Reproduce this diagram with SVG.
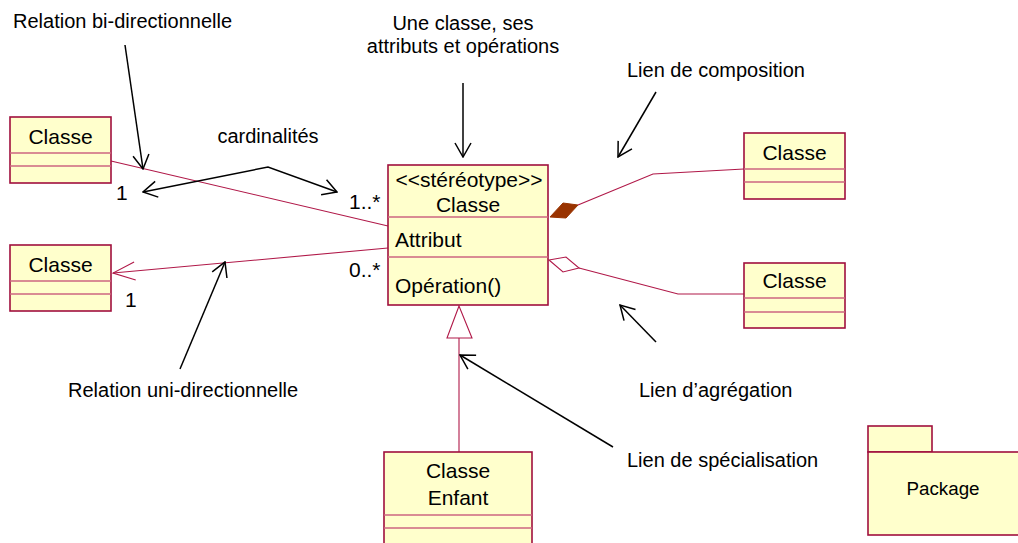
<svg xmlns="http://www.w3.org/2000/svg" width="1018" height="543" viewBox="0 0 1018 543">
<style>
text{font-family:"Liberation Sans",Arial,sans-serif;fill:#000}
.note{font-size:20px}
.card{font-size:21px}
.cls{font-size:21px}
.box{fill:#FFFFCC;stroke:#A0103E;stroke-width:1.6}
.div{stroke:#CC6680;stroke-width:1.4;fill:none}
.assoc{stroke:#B01848;stroke-width:1.1;fill:none}
.ann{stroke:#000;stroke-width:1.5;fill:none}
</style>
<defs>
<marker id="openb" markerUnits="userSpaceOnUse" markerWidth="16" markerHeight="20" viewBox="0 0 16 20" refX="15" refY="10" orient="auto-start-reverse">
<path d="M1,2 L15,10 L1,18" fill="none" stroke="#000" stroke-width="1.5"/>
</marker>
<marker id="openr" markerUnits="userSpaceOnUse" markerWidth="24" markerHeight="24" viewBox="0 0 24 24" refX="23" refY="12" orient="auto">
<path d="M1,3 L23,12 L1,21" fill="none" stroke="#B01848" stroke-width="1.1"/>
</marker>
</defs>

<g id="connectors">
<line class="assoc" x1="111" y1="161" x2="388" y2="226"/>
<line class="assoc" x1="388" y1="248" x2="113" y2="273" marker-end="url(#openr)"/>
<polygon points="550,217 563,203 578,205 566,218" fill="#993300" stroke="#993300" stroke-width="1"/>
<polyline class="assoc" points="578,205 653,174 744,169"/>
<polygon points="549,260 566,257 579,268 563,272" fill="#FFFFFF" stroke="#B01848" stroke-width="1.1"/>
<polyline class="assoc" points="579,268 678,294 744,294"/>
<polygon points="459,306 447,338 472,338" fill="#FFFFFF" stroke="#B01848" stroke-width="1.1"/>
<line class="assoc" x1="459" y1="338" x2="459" y2="452"/>
</g>

<g id="annotations">
<text class="note" x="13" y="28">Relation bi-directionnelle</text>
<line class="ann" x1="125" y1="45" x2="143" y2="169" marker-end="url(#openb)"/>
<text class="note" x="463" y="30" text-anchor="middle">Une classe, ses</text>
<text class="note" x="463" y="53" text-anchor="middle">attributs et opérations</text>
<line class="ann" x1="463" y1="83" x2="463" y2="157" marker-end="url(#openb)"/>
<text class="note" x="627" y="77">Lien de composition</text>
<line class="ann" x1="656" y1="92" x2="618" y2="157" marker-end="url(#openb)"/>
<text class="note" x="268" y="143" text-anchor="middle">cardinalités</text>
<polyline class="ann" points="143,192 268,167 337,192" marker-start="url(#openb)" marker-end="url(#openb)"/>
<text class="card" x="116" y="200">1</text>
<text class="card" x="349" y="209">1..*</text>
<text class="card" x="349" y="277">0..*</text>
<text class="card" x="125" y="307">1</text>
<text class="note" x="68" y="397">Relation uni-directionnelle</text>
<line class="ann" x1="180" y1="369" x2="225" y2="262" marker-end="url(#openb)"/>
<text class="note" x="639" y="397">Lien d’agrégation</text>
<line class="ann" x1="656" y1="342" x2="620" y2="305" marker-end="url(#openb)"/>
<text class="note" x="627" y="467">Lien de spécialisation</text>
<line class="ann" x1="613" y1="447" x2="460" y2="355" marker-end="url(#openb)"/>
</g>

<g id="class-topleft">
<rect class="box" x="10" y="117" width="101" height="66"/>
<line class="div" x1="10" y1="153" x2="111" y2="153"/>
<line class="div" x1="10" y1="166" x2="111" y2="166"/>
<text class="cls" x="60.5" y="144" text-anchor="middle">Classe</text>
</g>

<g id="class-left">
<rect class="box" x="10" y="245" width="101" height="66"/>
<line class="div" x1="10" y1="281" x2="111" y2="281"/>
<line class="div" x1="10" y1="294" x2="111" y2="294"/>
<text class="cls" x="60.5" y="272" text-anchor="middle">Classe</text>
</g>

<g id="class-main">
<rect class="box" x="388" y="165" width="160" height="140"/>
<line class="div" x1="388" y1="217" x2="548" y2="217"/>
<line class="div" x1="388" y1="257" x2="548" y2="257"/>
<text class="cls" x="469" y="187" text-anchor="middle">&lt;&lt;stéréotype&gt;&gt;</text>
<text class="cls" x="468" y="212" text-anchor="middle">Classe</text>
<text class="cls" x="395" y="247">Attribut</text>
<text class="cls" x="395" y="293">Opération()</text>
</g>

<g id="class-right-top">
<rect class="box" x="744" y="133" width="101" height="66"/>
<line class="div" x1="744" y1="169" x2="845" y2="169"/>
<line class="div" x1="744" y1="182" x2="845" y2="182"/>
<text class="cls" x="794.5" y="160" text-anchor="middle">Classe</text>
</g>

<g id="class-right-bottom">
<rect class="box" x="744" y="263" width="101" height="65"/>
<line class="div" x1="744" y1="298" x2="845" y2="298"/>
<line class="div" x1="744" y1="312" x2="845" y2="312"/>
<text class="cls" x="794.5" y="288" text-anchor="middle">Classe</text>
</g>

<g id="class-child">
<rect class="box" x="384" y="452" width="148" height="110"/>
<line class="div" x1="384" y1="515" x2="532" y2="515"/>
<line class="div" x1="384" y1="528" x2="532" y2="528"/>
<text class="cls" x="458" y="478" text-anchor="middle">Classe</text>
<text class="cls" x="458" y="505" text-anchor="middle">Enfant</text>
</g>

<g id="package">
<rect class="box" x="868" y="426" width="64" height="26"/>
<rect class="box" x="868" y="452" width="170" height="83"/>
<text x="943" y="495" text-anchor="middle" style="font-size:18.8px">Package</text>
</g>
</svg>
